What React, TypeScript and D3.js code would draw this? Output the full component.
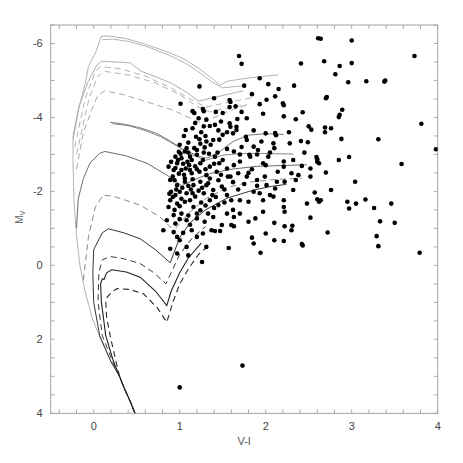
import React from "react";
import * as d3 from "d3";

// ---------- data ----------
const xTickLabels = [0, 1, 2, 3, 4];
const yTickLabels = [-6, -4, -2, 0, 2, 4];
const xMinorTicks = d3.range(-0.4, 4.001, 0.2);
const yMinorTicks = d3.range(-6.5, 4.001, 0.5);

// observed stars [V-I, M_V]
const stars: [number, number][] = [
  [1.69, -5.66], [1.72, -5.45], [2.61, -6.14], [2.64, -6.13], [3.0, -6.08], [3.73, -5.66],
  [2.68, -5.52], [3.0, -5.47], [2.41, -5.46], [2.86, -5.39], [2.81, -5.17], [2.96, -4.95],
  [3.17, -4.98], [3.38, -4.97], [3.39, -5.0], [1.93, -5.06], [2.03, -4.9], [2.33, -4.86],
  [2.15, -4.77], [1.23, -4.84], [1.75, -4.86], [1.84, -4.63], [2.71, -4.55], [2.7, -4.52],
  [2.11, -4.57], [2.01, -4.48], [1.93, -4.36], [2.2, -4.38], [2.21, -4.33], [2.89, -4.21],
  [2.86, -4.07], [2.85, -4.01], [2.43, -4.14], [2.21, -4.03], [2.35, -3.95], [3.81, -3.83],
  [2.69, -3.73], [2.69, -3.6], [2.76, -3.71], [2.5, -3.76], [2.53, -3.67], [2.88, -3.42],
  [3.31, -3.41], [3.98, -3.14], [2.27, -3.6], [2.41, -3.36], [2.49, -3.33], [2.97, -2.93],
  [2.85, -2.85], [3.58, -2.74], [2.59, -2.93], [2.6, -2.87], [2.6, -2.8], [2.62, -2.76],
  [2.7, -2.51], [3.04, -2.26], [2.76, -2.04], [2.57, -1.97], [2.6, -1.79], [2.62, -1.72],
  [2.64, -1.76], [2.48, -1.67], [2.95, -1.72], [2.97, -1.54], [3.05, -1.67], [3.16, -1.78],
  [3.26, -1.55], [3.46, -1.67], [3.33, -1.19], [3.5, -1.15], [3.29, -0.79], [3.31, -0.52],
  [3.79, -0.34], [2.72, -0.89], [2.52, -1.29], [2.42, -0.58], [2.43, -0.54], [2.31, -1.07],
  [2.3, -0.95], [2.22, -1.06], [2.21, -0.66], [2.1, -0.68], [2.0, -0.86], [2.1, -1.15],
  [1.94, -0.34], [1.86, -0.59], [1.84, -0.75], [1.57, -0.47], [1.31, -0.5], [1.26, -0.09],
  [1.0, 3.3], [1.73, 2.71], [0.81, -0.95], [1.41, -0.93], [1.47, -0.93],
  [1.01, -4.37], [1.15, -4.17], [1.17, -4.12], [1.27, -4.23], [1.28, -4.17], [1.4, -4.52],
  [1.58, -4.47], [1.59, -4.42], [1.58, -4.28], [1.5, -4.12], [1.78, -3.98], [1.67, -3.96],
  [1.48, -3.89], [1.41, -3.8], [1.22, -3.98], [1.31, -3.94], [1.35, -3.77], [1.15, -3.71],
  [1.07, -3.66], [1.28, -3.76], [1.58, -3.84], [1.59, -3.75], [1.66, -3.75], [1.66, -3.66],
  [1.86, -3.65], [1.77, -3.48], [1.78, -3.39], [1.62, -3.57], [1.5, -3.53], [1.45, -3.65],
  [2.0, -3.57], [2.11, -3.58], [2.12, -3.52], [2.09, -3.3], [2.1, -3.17], [1.86, -3.21],
  [1.91, -3.12], [1.81, -2.99], [1.82, -2.94], [1.9, -3.0], [1.63, -3.08], [1.55, -3.15],
  [1.39, -3.39], [1.31, -3.35], [1.23, -3.41], [1.19, -3.48], [1.24, -3.29], [1.36, -3.26],
  [1.1, -3.32], [1.0, -3.26], [0.99, -3.07], [1.01, -3.02], [1.06, -3.08], [0.95, -2.94],
  [1.02, -2.9], [1.12, -2.94], [1.2, -2.99], [1.28, -3.05], [1.17, -3.17], [1.41, -2.94],
  [1.35, -2.67], [1.24, -2.76], [1.09, -2.8], [1.11, -2.71], [0.97, -2.76], [0.87, -2.67],
  [0.93, -2.58], [1.02, -2.58], [1.14, -2.49], [1.23, -2.53], [1.31, -2.44], [1.43, -2.53],
  [1.55, -2.62], [1.63, -2.71], [1.7, -2.81], [1.46, -2.76], [1.59, -2.4], [1.68, -2.49],
  [1.78, -2.4], [1.9, -2.31], [1.99, -2.4], [2.0, -2.71], [2.14, -2.53], [2.21, -2.67],
  [2.03, -2.94], [1.97, -2.76], [2.21, -2.81], [2.32, -2.85], [2.3, -2.49], [2.38, -2.44],
  [2.42, -2.69], [2.52, -2.4], [2.52, -2.62], [2.35, -2.31], [2.22, -2.26], [2.13, -2.26],
  [2.11, -2.08], [2.01, -2.17], [1.86, -1.99], [1.93, -1.95], [1.97, -1.76], [1.8, -1.72],
  [1.7, -1.76], [1.6, -1.76], [1.55, -1.9], [1.49, -2.13], [1.39, -2.04], [1.31, -2.17],
  [1.24, -2.26], [1.16, -2.17], [1.06, -2.26], [0.97, -2.17], [0.89, -2.31], [0.9, -1.99],
  [0.88, -1.94], [1.0, -1.99], [1.08, -1.95], [1.18, -1.86], [1.28, -1.95], [1.35, -1.76],
  [1.45, -1.63], [1.55, -1.4], [1.63, -1.31], [1.7, -1.4], [1.8, -1.18], [1.88, -1.27],
  [1.97, -1.45], [2.21, -1.76], [2.21, -1.58], [2.22, -1.45], [2.32, -2.04], [2.09, -1.86],
  [0.89, -1.76], [0.87, -1.58], [0.97, -1.67], [1.06, -1.72], [1.16, -1.58], [1.24, -1.49],
  [1.33, -1.4], [1.02, -1.4], [0.93, -1.36], [0.85, -1.22], [0.95, -1.13], [1.08, -1.22],
  [1.2, -1.27], [1.29, -1.18], [1.39, -1.31], [1.49, -1.09], [1.6, -1.09], [1.63, -1.06],
  [0.93, -0.9], [0.97, -0.77], [1.0, -0.68], [1.08, -0.5], [1.1, -0.27], [0.97, -0.32],
  [0.89, -0.45], [1.2, -0.77], [1.14, -0.95], [1.27, -0.86], [1.37, -0.95], [1.04, -0.88],
  [1.29, -3.19], [1.08, -3.17], [0.92, -2.4], [0.96, -2.05], [1.05, -2.45], [1.13, -2.05],
  [1.2, -2.6], [1.26, -2.1], [1.35, -2.35], [1.45, -2.3], [1.5, -2.85], [1.56, -2.4],
  [1.75, -2.2], [1.84, -2.6], [1.72, -3.2], [1.7, -3.0], [1.44, -3.05], [1.34, -3.02],
  [1.12, -1.76], [1.0, -1.6], [0.92, -1.85], [1.2, -1.4], [1.4, -1.55], [1.62, -1.5],
  [1.07, -2.62], [0.99, -2.48], [1.15, -2.33], [1.3, -2.6], [1.62, -2.25], [1.8, -2.5],
  [1.46, -3.4], [1.55, -3.6], [1.95, -3.35], [1.72, -4.15], [1.97, -4.1], [1.65, -4.3],
  [1.25, -3.6], [1.05, -3.5], [1.42, -4.15], [2.28, -3.3], [2.45, -3.05], [2.05, -3.05],
  [1.9, -2.15], [2.05, -1.9], [1.68, -2.05], [1.52, -1.7], [1.42, -1.85], [1.3, -1.62],
  [0.98, -2.85], [1.04, -2.75], [1.14, -2.85], [1.18, -2.68], [1.06, -2.35], [0.94, -2.3],
  [1.1, -2.15], [1.03, -2.1], [0.95, -1.9], [1.02, -1.8], [1.15, -1.95], [1.22, -2.02],
  [0.9, -2.8], [0.95, -2.63], [1.12, -2.58], [1.27, -2.85], [1.2, -3.12], [1.1, -3.05],
  [1.0, -1.25], [1.1, -1.35], [0.94, -1.5], [1.12, -1.1], [1.25, -1.7], [1.33, -2.22],
  [1.38, -1.9], [1.48, -2.45], [1.52, -2.05], [1.4, -2.75], [1.3, -3.5], [1.18, -3.85],
];

type Iso = { pts: [number, number][]; color: string; dash: boolean; w: number };

// shared lower main sequence
const msLower: [number, number][] = [[0.48, 4.0], [0.42, 3.65], [0.36, 3.35], [0.3, 3.0]];

const isoYoung1: [number, number][] = [
  ...msLower, [0.2, 2.6], [0.08, 2.0], [-0.02, 1.4], [-0.1, 0.7], [-0.16, 0.0], [-0.2, -0.8],
  [-0.23, -1.8], [-0.24, -2.8], [-0.24, -3.5], [-0.18, -4.2], [-0.1, -4.9], [-0.06, -5.38],
  [0.03, -5.8], [0.09, -6.2], [0.2, -6.2], [0.38, -6.13], [0.6, -5.98], [0.85, -5.78],
  [1.05, -5.58], [1.22, -5.33], [1.36, -5.08], [1.47, -4.87], [1.55, -4.98], [1.72, -5.04],
  [1.92, -5.1], [2.15, -5.15],
];
const isoYoung1b: [number, number][] = [
  [0.1, -6.1], [0.22, -6.12], [0.42, -6.05], [0.64, -5.9], [0.88, -5.68], [1.08, -5.45],
  [1.25, -5.18], [1.38, -4.95], [1.5, -4.8], [1.62, -4.83], [1.76, -4.86],
];
const isoYoung2: [number, number][] = [
  [-0.24, -3.4], [-0.17, -4.3], [-0.06, -5.0], [0.04, -5.42], [0.09, -5.52], [0.25, -5.5],
  [0.42, -5.48], [0.55, -5.25], [0.72, -5.1], [0.9, -4.93], [1.08, -4.68], [1.22, -4.44],
  [1.36, -4.52], [1.55, -4.62], [1.74, -4.72],
];
const isoYoung3: [number, number][] = [
  [-0.22, -3.2], [-0.1, -4.5], [0.02, -5.25], [0.08, -5.38], [0.3, -5.32], [0.6, -5.12],
  [0.9, -4.8], [1.12, -4.5], [1.3, -4.28], [1.45, -4.35], [1.65, -4.45], [1.88, -4.55],
];
const isoYoung4: [number, number][] = [
  [-0.2, -3.0], [-0.05, -4.55], [0.05, -5.12], [0.12, -5.25], [0.4, -5.15], [0.7, -4.95],
  [1.0, -4.62], [1.2, -4.3], [1.35, -4.15], [1.55, -4.25], [1.78, -4.35],
];
const isoMid5: [number, number][] = [
  [-0.2, -2.6], [-0.12, -3.6], [0.0, -4.35], [0.05, -4.6], [0.13, -4.72], [0.34, -4.62],
  [0.62, -4.42], [0.93, -4.19], [1.12, -3.98], [1.25, -3.85], [1.4, -4.0], [1.6, -4.2],
  [1.8, -4.35],
];
const isoMid6: [number, number][] = [
  [0.19, -3.87], [0.35, -3.82], [0.54, -3.72], [0.72, -3.58], [0.88, -3.38], [1.05, -3.12],
  [1.24, -2.94], [1.32, -2.9], [1.45, -3.05], [1.62, -3.35], [1.8, -3.52], [2.0, -3.56],
  [2.21, -3.54],
];
const isoMid6b: [number, number][] = [
  [0.22, -3.83], [0.4, -3.78], [0.58, -3.66], [0.78, -3.48], [0.95, -3.25], [1.12, -3.02],
  [1.3, -2.84], [1.5, -2.98], [1.68, -3.02], [1.9, -3.03], [2.32, -3.01],
];
const isoMid7: [number, number][] = [
  [-0.2, -1.0], [-0.18, -1.8], [-0.12, -2.35], [-0.04, -2.78], [0.07, -3.03], [0.13, -3.08],
  [0.38, -2.96], [0.62, -2.76], [0.85, -2.44], [0.97, -2.25], [1.02, -2.15], [1.15, -2.3],
  [1.35, -2.48], [1.6, -2.6], [1.9, -2.68], [2.2, -2.7], [2.48, -2.72],
];
const isoMid8: [number, number][] = [
  [-0.12, 0.4], [-0.06, -0.8], [0.02, -1.58], [0.11, -1.9], [0.23, -1.87], [0.54, -1.63],
  [0.77, -1.31], [0.89, -1.04], [0.95, -1.0], [1.1, -1.4], [1.3, -1.8], [1.55, -2.1],
  [1.8, -2.25], [2.1, -2.32], [2.42, -2.36],
];
const isoOld9: [number, number][] = [
  ...msLower, [0.2, 2.6], [0.07, 1.9], [0.0, 1.0], [-0.01, 0.2], [0.0, -0.42], [0.02, -0.52],
  [0.1, -0.88], [0.17, -0.99], [0.35, -0.88], [0.54, -0.72], [0.72, -0.42], [0.89, -0.07],
  [0.93, -0.32], [1.0, -0.75], [1.12, -1.15], [1.3, -1.5], [1.55, -1.82], [1.85, -2.03],
  [2.05, -2.13], [2.24, -2.19],
];
const isoOld10: [number, number][] = [
  ...msLower, [0.22, 2.6], [0.1, 1.9], [0.05, 1.0], [0.06, 0.2], [0.1, -0.15], [0.19, -0.24],
  [0.35, -0.18], [0.54, -0.05], [0.7, 0.2], [0.84, 0.5], [0.9, 0.2], [1.0, -0.3],
  [1.15, -0.75], [1.3, -1.05],
];
const isoOld11: [number, number][] = [
  ...msLower, [0.23, 2.6], [0.14, 1.9], [0.09, 1.0], [0.08, 0.5], [0.1, 0.36], [0.12, 0.38],
  [0.15, 0.2], [0.21, 0.12], [0.38, 0.18], [0.54, 0.32], [0.72, 0.7], [0.85, 1.09],
  [0.9, 0.7], [1.0, 0.2], [1.1, -0.2], [1.25, -0.6],
];
const isoOld12: [number, number][] = [
  ...msLower, [0.26, 2.6], [0.2, 2.0], [0.15, 1.4], [0.14, 0.95], [0.16, 0.85], [0.21, 0.72],
  [0.27, 0.63], [0.42, 0.65], [0.58, 0.77], [0.74, 1.15], [0.85, 1.54], [0.92, 1.0],
  [1.0, 0.5], [1.1, 0.1], [1.22, -0.3], [1.32, -0.5],
];

const isochrones: Iso[] = [
  { pts: isoYoung1, color: "#aaa", dash: false, w: 0.9 },
  { pts: isoYoung1b, color: "#aaa", dash: false, w: 0.9 },
  { pts: isoYoung2, color: "#a4a4a4", dash: false, w: 0.9 },
  { pts: isoYoung3, color: "#aaa", dash: true, w: 0.9 },
  { pts: isoYoung4, color: "#aaa", dash: true, w: 0.9 },
  { pts: isoMid5, color: "#9c9c9c", dash: true, w: 0.9 },
  { pts: isoMid6, color: "#6a6a6a", dash: false, w: 0.9 },
  { pts: isoMid6b, color: "#7a7a7a", dash: false, w: 0.9 },
  { pts: isoMid7, color: "#5a5a5a", dash: false, w: 0.9 },
  { pts: isoMid8, color: "#7a7a7a", dash: true, w: 0.9 },
  { pts: isoOld9, color: "#333", dash: false, w: 1 },
  { pts: isoOld10, color: "#3a3a3a", dash: true, w: 1 },
  { pts: isoOld11, color: "#222", dash: false, w: 1.1 },
  { pts: isoOld12, color: "#2a2a2a", dash: true, w: 1.1 },
];

// ---------- layout ----------
const W = 463;
const H = 463;
const L = 50.7, R = 437.7, T = 25, B = 413.3;

export default function App() {
  const x = d3.scaleLinear().domain([-0.5, 4]).range([L, R]);
  const y = d3.scaleLinear().domain([-6.5, 4]).range([T, B]);
  const line = d3
    .line<[number, number]>()
    .x((d) => x(d[0]))
    .y((d) => y(d[1]))
    .curve(d3.curveLinear);
  const axisColor = "#9a9a9a";
  const tl = 4;
  const font = "Liberation Sans, Arial, sans-serif";

  return (
    <svg width={W} height={H} style={{ position: "absolute", left: 0, top: 0, background: "#fff" }}>
      <rect x={0} y={0} width={W} height={H} fill="#fff" />
      <defs>
        <clipPath id="plot">
          <rect x={L} y={T} width={R - L} height={B - T} />
        </clipPath>
      </defs>
      {xMinorTicks.map((t, i) => (
        <g key={"xt" + i} stroke={axisColor} strokeWidth={0.8}>
          <line x1={x(t)} x2={x(t)} y1={B} y2={B - tl} />
          <line x1={x(t)} x2={x(t)} y1={T} y2={T + tl} />
        </g>
      ))}
      {yMinorTicks.map((t, i) => (
        <g key={"yt" + i} stroke={axisColor} strokeWidth={0.8}>
          <line x1={L} x2={L + tl} y1={y(t)} y2={y(t)} />
          <line x1={R} x2={R - tl} y1={y(t)} y2={y(t)} />
        </g>
      ))}
      <rect x={L} y={T} width={R - L} height={B - T} fill="none" stroke={axisColor} strokeWidth={0.9} />
      {xTickLabels.map((t) => (
        <text key={"xl" + t} x={x(t)} y={B + 17} textAnchor="middle" fontSize={11} fill="#444" fontFamily={font}>
          {t}
        </text>
      ))}
      {yTickLabels.map((t) => (
        <text key={"yl" + t} x={L - 8} y={y(t) + 4} textAnchor="end" fontSize={11} fill="#444" fontFamily={font}>
          {t}
        </text>
      ))}
      <text x={(L + R) / 2} y={445} textAnchor="middle" fontSize={11} fill="#555" fontFamily={font}>
        V-I
      </text>
      <text transform={`translate(23,${y(-1.3)}) rotate(-90)`} textAnchor="middle" fontSize={10} fill="#666" fontFamily={font}>
        M<tspan fontSize={7} dy={2}>V</tspan>
      </text>
      <g clipPath="url(#plot)">
        {isochrones.map((iso, i) => (
          <path
            key={"iso" + i}
            d={line(iso.pts) || ""}
            fill="none"
            stroke={iso.color}
            strokeWidth={iso.w}
            strokeDasharray={iso.dash ? "6,4" : undefined}
          />
        ))}
        {stars.map((s, i) => (
          <circle key={"s" + i} cx={x(s[0])} cy={y(s[1])} r={2.3} fill="#000" />
        ))}
      </g>
    </svg>
  );
}
